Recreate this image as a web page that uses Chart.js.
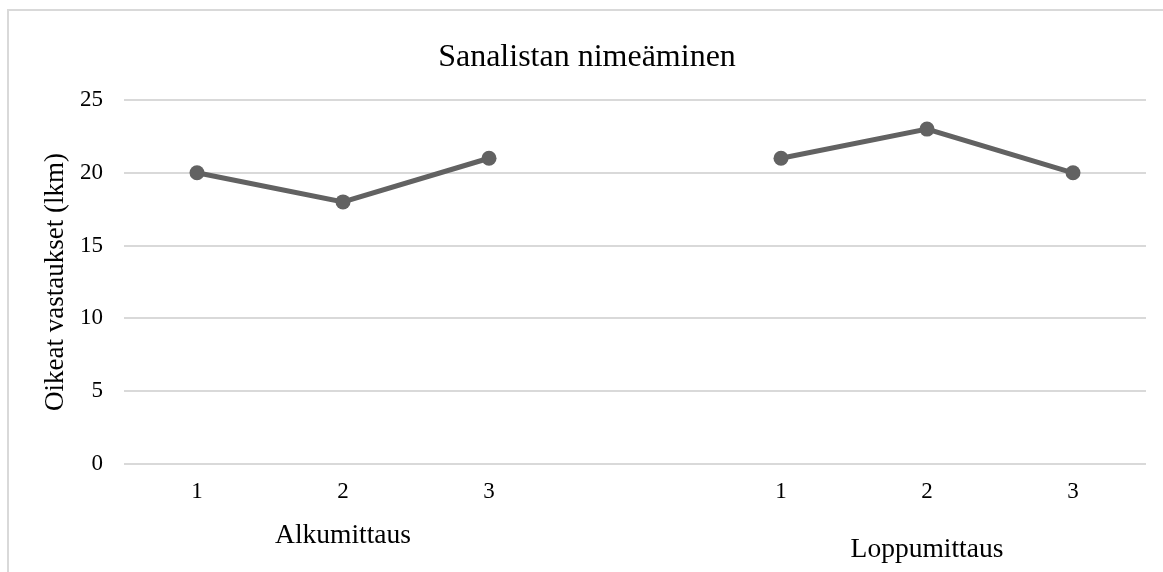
<!DOCTYPE html>
<html>
<head>
<meta charset="utf-8">
<script src="https://cdn.jsdelivr.net/npm/chart.js@4"></script>
<style>
  html, body { margin: 0; padding: 0; background: #fff; overflow: hidden; }
  #frame { position: absolute; left: 7px; top: 9px; width: 1200px; height: 600px;
           border-left: 2px solid #d9d9d9; border-top: 2px solid #d9d9d9; }
  #wrap { position: absolute; left: 0; top: 0; width: 1163px; height: 572px; }
</style>
</head>
<body>
<div id="frame"></div>
<div id="wrap"><canvas id="myChart" width="1163" height="572"></canvas></div>
<script>
const categories = ['1', '2', '3', '', '1', '2', '3'];
const answers = [20, 18, 21, null, 21, 23, 20];
const groupNames = ['Alkumittaus', 'Loppumittaus'];
const groupCenters = [1, 5];
const yTicks = [0, 5, 10, 15, 20, 25];

const serif = "'Liberation Serif', 'Times New Roman', serif";
const lineColor = '#626262';

// group labels below the category ticks
const groupLabels = {
  id: 'groupLabels',
  afterDraw(chart) {
    const {ctx, scales} = chart;
    const offsets = [72, 86];
    ctx.save();
    ctx.font = '27.5px ' + serif;
    ctx.fillStyle = '#000';
    ctx.textAlign = 'center';
    ctx.textBaseline = 'middle';
    groupNames.forEach((name, i) => {
      const x = scales.x.getPixelForValue(groupCenters[i]);
      ctx.fillText(name, x, scales.x.top + offsets[i]);
    });
    ctx.restore();
  }
};

const ctx = document.getElementById('myChart');
new Chart(ctx, {
  type: 'line',
  data: {
    labels: categories,
    datasets: [{
      data: answers,
      borderColor: lineColor,
      backgroundColor: lineColor,
      borderWidth: 5,
      pointRadius: 7.5,
      pointBorderWidth: 0,
      spanGaps: false,
      tension: 0
    }]
  },
  options: {
    responsive: false,
    animation: false,
    layout: { padding: { left: 28, right: 17, top: 0, bottom: 0 } },
    plugins: {
      legend: { display: false },
      tooltip: { enabled: false },
      title: {
        display: true,
        text: 'Sanalistan nimeäminen',
        color: '#000',
        font: { family: serif, size: 32, weight: 'normal' },
        padding: { top: 38, bottom: 23.6 }
      }
    },
    scales: {
      x: {
        offset: true,
        grid: { display: false, drawTicks: false },
        border: { display: false },
        ticks: { color: '#000', font: { family: serif, size: 23 }, padding: 14, maxRotation: 0, autoSkip: false },
        afterFit: (s) => { s.height = 108; }
      },
      y: {
        min: 0,
        max: 25,
        afterBuildTicks: (s) => { s.ticks = yTicks.map(v => ({value: v})); },
        grid: { color: '#d9d9d9', lineWidth: 2, drawTicks: false },
        border: { display: false },
        ticks: { color: '#000', font: { family: serif, size: 23 }, padding: 21 },
        title: {
          display: true,
          text: 'Oikeat vastaukset (lkm)',
          color: '#000',
          font: { family: serif, size: 27 },
          padding: { top: 12, bottom: 0 }
        },
        afterFit: (s) => { s.width = 96; }
      }
    }
  },
  plugins: [groupLabels]
});
</script>
</body>
</html>
